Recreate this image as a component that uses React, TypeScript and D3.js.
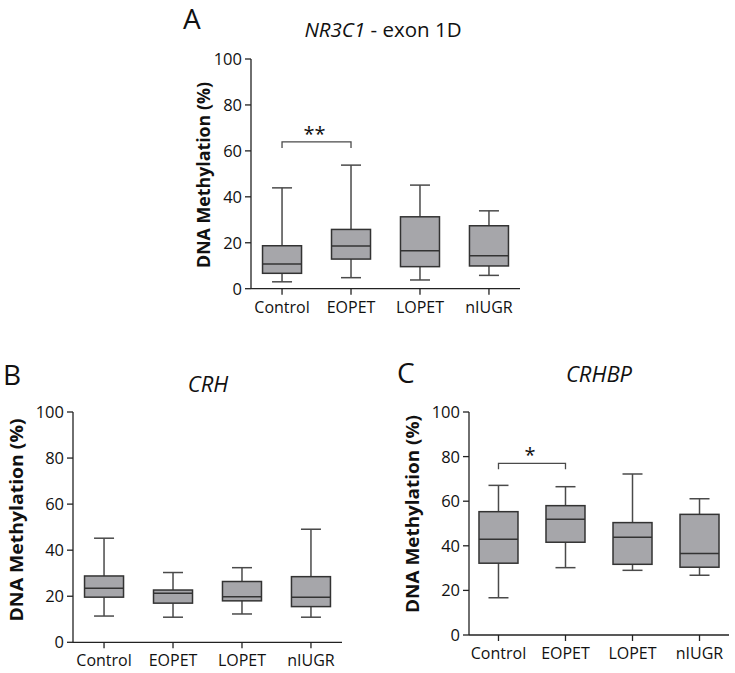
import React from 'react';
import * as d3 from 'd3';

const categories = ['Control', 'EOPET', 'LOPET', 'nIUGR'];
const yTicks = [0, 20, 40, 60, 80, 100];

// Panel A: NR3C1 - exon 1D
const nr3c1Low = [3.0, 4.8, 3.8, 5.8];
const nr3c1Q1 = [6.7, 12.9, 9.6, 9.9];
const nr3c1Median = [10.7, 18.6, 16.5, 14.3];
const nr3c1Q3 = [18.7, 25.8, 31.3, 27.4];
const nr3c1High = [43.9, 53.8, 45.1, 33.9];

// Panel B: CRH
const crhLow = [11.4, 10.9, 12.3, 10.9];
const crhQ1 = [19.6, 17.0, 18.0, 15.5];
const crhMedian = [23.5, 21.3, 19.8, 19.6];
const crhQ3 = [28.8, 22.7, 26.4, 28.5];
const crhHigh = [45.2, 30.3, 32.4, 49.1];

// Panel C: CRHBP
const crhbpLow = [16.7, 30.2, 29.0, 26.8];
const crhbpQ1 = [32.2, 41.6, 31.7, 30.4];
const crhbpMedian = [42.9, 51.9, 43.8, 36.6];
const crhbpQ3 = [55.3, 58.0, 50.4, 54.1];
const crhbpHigh = [67.1, 66.5, 72.2, 61.1];

// Significance brackets
const nr3c1Sig = { from: 'Control', to: 'EOPET', level: 63.9, label: '**' };
const crhbpSig = { from: 'Control', to: 'EOPET', level: 77, label: '*' };

const FONT = "'Open Sans', 'Noto Sans', sans-serif";
const BOX_FILL = '#a6a6aa';
const BOX_STROKE = '#333333';
const WHISKER = '#4a4a4a';
const AXIS = '#222222';

type Sig = { from: string; to: string; level: number; label: string };

type PanelProps = {
  letter: string;
  letterX: number;
  letterY: number;
  titleItalic: string;
  titleRest?: string;
  titleX: number;
  titleY: number;
  titleSize: number;
  x0: number;
  x1: number;
  yTop: number;
  yBottom: number;
  padding: number;
  ylabelX: number;
  ylabelY: number;
  ylabelSize: number;
  ylabelLen: number;
  low: number[];
  q1: number[];
  median: number[];
  q3: number[];
  high: number[];
  sig?: Sig;
};

function Panel(p: PanelProps) {
  const x = d3.scalePoint<string>().domain(categories).range([p.x0, p.x1]).padding(p.padding);
  const y = d3.scaleLinear().domain([0, 100]).range([p.yBottom, p.yTop]);
  const boxW = 39;
  const capW = 20;
  return (
    <g>
      <text x={p.letterX} y={p.letterY} fontFamily={FONT} fontSize={28} fill="#111">{p.letter}</text>
      <text x={p.titleX} y={p.titleY} textAnchor="middle" fontFamily={FONT} fontSize={p.titleSize} fill="#111">
        <tspan fontStyle="italic">{p.titleItalic}</tspan>
        {p.titleRest ? <tspan>{p.titleRest}</tspan> : null}
      </text>
      <text
        transform={`translate(${p.ylabelX},${p.ylabelY}) rotate(-90)`}
        textAnchor="middle"
        fontFamily={FONT}
        fontWeight="bold"
        fontSize={p.ylabelSize}
        textLength={p.ylabelLen}
        lengthAdjust="spacingAndGlyphs"
        fill="#111"
      >
        DNA Methylation (%)
      </text>
      {/* y axis */}
      <line x1={p.x0} x2={p.x0} y1={y(100)} y2={y(0)} stroke={AXIS} strokeWidth={1.3} />
      {yTicks.map((t) => (
        <g key={t}>
          <line x1={p.x0 - 6} x2={p.x0} y1={y(t)} y2={y(t)} stroke={AXIS} strokeWidth={1.3} />
          <text x={p.x0 - 9} y={y(t)} dy="0.36em" textAnchor="end" fontFamily={FONT} fontSize={16.5} fill="#111">
            {t}
          </text>
        </g>
      ))}
      {/* x axis */}
      <line x1={p.x0} x2={p.x1} y1={y(0)} y2={y(0)} stroke={AXIS} strokeWidth={1.3} />
      {categories.map((c) => (
        <g key={c}>
          <line x1={x(c)} x2={x(c)} y1={y(0)} y2={y(0) + 6} stroke={AXIS} strokeWidth={1.3} />
          <text x={x(c)} y={y(0) + 24} textAnchor="middle" fontFamily={FONT} fontSize={16} fill="#111">
            {c}
          </text>
        </g>
      ))}
      {/* boxes */}
      {categories.map((c, i) => {
        const cx = x(c) as number;
        return (
          <g key={c}>
            <line x1={cx} x2={cx} y1={y(p.high[i])} y2={y(p.q3[i])} stroke={WHISKER} strokeWidth={1.5} />
            <line x1={cx} x2={cx} y1={y(p.q1[i])} y2={y(p.low[i])} stroke={WHISKER} strokeWidth={1.5} />
            <line x1={cx - capW / 2} x2={cx + capW / 2} y1={y(p.high[i])} y2={y(p.high[i])} stroke={WHISKER} strokeWidth={1.5} />
            <line x1={cx - capW / 2} x2={cx + capW / 2} y1={y(p.low[i])} y2={y(p.low[i])} stroke={WHISKER} strokeWidth={1.5} />
            <rect
              x={cx - boxW / 2}
              y={y(p.q3[i])}
              width={boxW}
              height={y(p.q1[i]) - y(p.q3[i])}
              fill={BOX_FILL}
              stroke={BOX_STROKE}
              strokeWidth={1.5}
            />
            <line x1={cx - boxW / 2} x2={cx + boxW / 2} y1={y(p.median[i])} y2={y(p.median[i])} stroke={BOX_STROKE} strokeWidth={1.5} />
          </g>
        );
      })}
      {p.sig ? (
        <g>
          <path
            d={`M${x(p.sig.from)},${y(p.sig.level) + 6}V${y(p.sig.level)}H${x(p.sig.to)}V${y(p.sig.level) + 6}`}
            fill="none"
            stroke={WHISKER}
            strokeWidth={1.3}
          />
          <text
            x={((x(p.sig.from) as number) + (x(p.sig.to) as number)) / 2 - 2}
            y={y(p.sig.level) - 1}
            textAnchor="middle"
            fontFamily={FONT}
            fontSize={20}
            fill="#111"
          >
            {p.sig.label}
          </text>
        </g>
      ) : null}
    </g>
  );
}

export default function App() {
  return (
    <svg
      width={735}
      height={673}
      viewBox="0 0 735 673"
      style={{ position: 'absolute', left: 0, top: 0, background: '#fff' }}
    >
      <rect x={0} y={0} width={735} height={673} fill="#fff" />
      <Panel
        letter="A"
        letterX={183}
        letterY={29}
        titleItalic="NR3C1"
        titleRest=" - exon 1D"
        titleX={383}
        titleY={37}
        titleSize={20.5}
        x0={251}
        x1={520}
        yTop={59}
        yBottom={288.7}
        padding={0.45}
        ylabelX={210}
        ylabelY={175}
        ylabelSize={17}
        ylabelLen={186}
        low={nr3c1Low}
        q1={nr3c1Q1}
        median={nr3c1Median}
        q3={nr3c1Q3}
        high={nr3c1High}
        sig={nr3c1Sig}
      />
      <Panel
        letter="B"
        letterX={3}
        letterY={385}
        titleItalic="CRH"
        titleX={208}
        titleY={392}
        titleSize={22}
        x0={73}
        x1={342}
        yTop={412}
        yBottom={642.3}
        padding={0.45}
        ylabelX={23}
        ylabelY={520}
        ylabelSize={18}
        ylabelLen={203}
        low={crhLow}
        q1={crhQ1}
        median={crhMedian}
        q3={crhQ3}
        high={crhHigh}
      />
      <Panel
        letter="C"
        letterX={397}
        letterY={383}
        titleItalic="CRHBP"
        titleX={599}
        titleY={382}
        titleSize={22}
        x0={469}
        x1={729}
        yTop={412}
        yBottom={635}
        padding={0.44}
        ylabelX={419}
        ylabelY={514}
        ylabelSize={18}
        ylabelLen={198}
        low={crhbpLow}
        q1={crhbpQ1}
        median={crhbpMedian}
        q3={crhbpQ3}
        high={crhbpHigh}
        sig={crhbpSig}
      />
    </svg>
  );
}
